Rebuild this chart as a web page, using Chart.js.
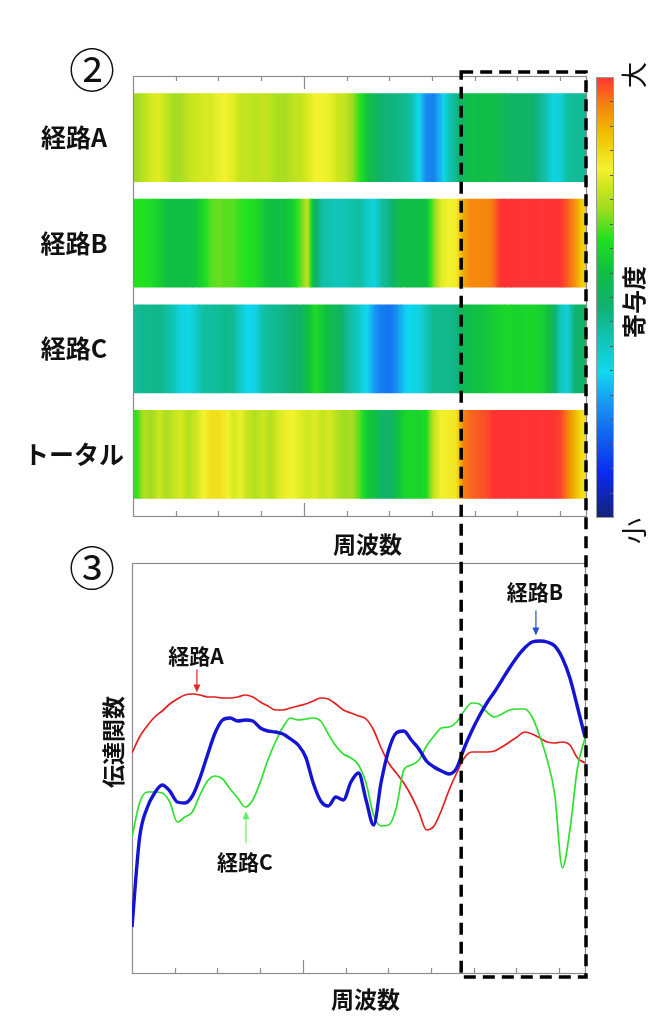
<!DOCTYPE html>
<html>
<head>
<meta charset="utf-8">
<script src="https://cdn.jsdelivr.net/npm/chart.js@4.4.1/dist/chart.umd.min.js"></script>
<style>
  html, body { margin: 0; padding: 0; background: #fff; }
  #wrap { position: relative; width: 669px; height: 1028px; }
  #wrap canvas { position: absolute; left: 0; top: 0; }
</style>
</head>
<body>
<div id="wrap">
  <canvas id="heat" width="669" height="1028"></canvas>
  <canvas id="lines" width="669" height="1028"></canvas>
</div>
<script>
// frequency bins (shared by both panels)
const freqBins = [0, 1, 2, 3, 4, 5, 6, 7, 8, 9, 10, 11, 12, 13, 14, 15, 16, 17, 18, 19,
  20, 21, 22, 23, 24, 25, 26, 27, 28, 29, 30, 31, 32, 33, 34, 35, 36, 37, 38, 39,
  40, 41, 42, 43, 44, 45, 46, 47, 48, 49, 50, 51, 52, 53, 54, 55, 56, 57, 58, 59, 60];

const pathLabels = ['経路A', '経路B', '経路C', 'トータル'];

// contribution (0 = 小, 1 = 大) per frequency bin
const heatA = [0.70, 0.73, 0.76, 0.77, 0.74, 0.70, 0.71, 0.74, 0.75, 0.76,
  0.76, 0.78, 0.79, 0.77, 0.74, 0.74, 0.73, 0.74, 0.73, 0.71,
  0.71, 0.73, 0.74, 0.76, 0.79, 0.79, 0.78, 0.75, 0.74, 0.70,
  0.64, 0.57, 0.52, 0.48, 0.47, 0.46, 0.45, 0.42, 0.33, 0.24,
  0.23, 0.30, 0.40, 0.45, 0.52, 0.55, 0.55, 0.55, 0.55, 0.53,
  0.51, 0.50, 0.50, 0.49, 0.46, 0.42, 0.35, 0.36, 0.43, 0.44, 0.44];
const heatB = [0.63, 0.63, 0.62, 0.59, 0.56, 0.55, 0.55, 0.55, 0.57, 0.61,
  0.66, 0.67, 0.66, 0.66, 0.64, 0.63, 0.62, 0.58, 0.56, 0.55,
  0.56, 0.59, 0.66, 0.73, 0.50, 0.42, 0.41, 0.40, 0.40, 0.42,
  0.43, 0.38, 0.35, 0.43, 0.46, 0.53, 0.55, 0.55, 0.55, 0.56,
  0.68, 0.77, 0.79, 0.80, 0.90, 0.93, 0.93, 0.93, 0.95, 1.00,
  1.00, 1.00, 1.00, 1.00, 1.00, 1.00, 1.00, 1.00, 0.97, 0.92, 0.85];
const heatC = [0.44, 0.45, 0.45, 0.46, 0.43, 0.40, 0.35, 0.34, 0.38, 0.43,
  0.43, 0.44, 0.45, 0.44, 0.38, 0.33, 0.35, 0.42, 0.44, 0.45,
  0.46, 0.48, 0.49, 0.55, 0.62, 0.58, 0.54, 0.52, 0.46, 0.42,
  0.38, 0.33, 0.26, 0.22, 0.21, 0.25, 0.31, 0.34, 0.35, 0.40,
  0.45, 0.45, 0.45, 0.46, 0.53, 0.55, 0.56, 0.57, 0.59, 0.60,
  0.61, 0.60, 0.60, 0.61, 0.60, 0.58, 0.52, 0.40, 0.36, 0.48, 0.50];
const heatTotal = [0.64, 0.72, 0.70, 0.75, 0.71, 0.74, 0.76, 0.72, 0.75, 0.79,
  0.82, 0.82, 0.80, 0.76, 0.78, 0.74, 0.72, 0.75, 0.72, 0.76,
  0.78, 0.79, 0.77, 0.75, 0.77, 0.74, 0.76, 0.72, 0.70, 0.71,
  0.66, 0.58, 0.56, 0.50, 0.49, 0.55, 0.60, 0.61, 0.60, 0.62,
  0.74, 0.79, 0.80, 0.81, 0.94, 0.96, 0.97, 0.98, 1.00, 1.00,
  1.00, 1.00, 1.00, 1.00, 1.00, 1.00, 1.00, 0.99, 0.94, 0.88, 0.82];

// transfer function per path (arbitrary units)
const tfA = [22.0, 23.6, 24.7, 25.6, 26.2, 26.9, 27.4, 27.8, 27.9, 27.8,
  27.6, 27.6, 27.5, 27.5, 27.6, 27.8, 27.6, 27.1, 26.7, 26.3,
  26.3, 26.5, 26.7, 26.9, 27.2, 27.5, 27.4, 26.9, 26.3, 26.0,
  25.7, 25.4, 24.3, 22.5, 21.0, 20.0, 19.0, 17.7, 16.1, 14.3,
  14.7, 16.3, 18.3, 20.0, 21.5, 22.1, 22.1, 22.1, 22.2, 22.6,
  23.1, 23.6, 24.1, 23.9, 23.5, 23.1, 23.0, 23.1, 22.8, 21.5, 21.0];
const tfB = [4.6, 13.5, 16.5, 18.0, 18.8, 18.2, 17.1, 17.0, 17.7, 19.5,
  21.8, 24.0, 25.3, 25.5, 25.2, 25.3, 25.2, 24.5, 24.2, 24.1,
  23.9, 23.4, 22.8, 21.6, 19.0, 17.2, 16.7, 17.6, 17.3, 19.1,
  20.0, 17.3, 14.8, 19.1, 22.3, 24.0, 24.2, 23.3, 22.4, 21.2,
  20.6, 20.2, 19.9, 20.5, 22.5, 24.2, 25.7, 27.0, 28.1, 29.3,
  30.5, 31.6, 32.5, 33.1, 33.2, 33.1, 32.7, 31.5, 29.5, 26.6, 23.6];
const tfC = [13.6, 17.0, 18.1, 18.1, 18.0, 17.1, 15.1, 15.6, 16.1, 17.8,
  19.2, 19.7, 19.4, 18.4, 17.5, 16.6, 17.3, 19.1, 21.3, 23.1,
  24.6, 25.5, 25.3, 25.4, 25.5, 25.2, 23.9, 22.7, 21.9, 21.5,
  20.8, 19.0, 15.8, 14.7, 14.8, 16.5, 20.3, 20.8, 21.3, 22.7,
  23.7, 24.5, 24.6, 25.1, 26.2, 27.0, 26.9, 26.1, 25.6, 25.9,
  26.3, 26.4, 26.4, 25.6, 23.7, 21.3, 17.8, 10.5, 14.3, 20.5, 23.5];

// highlighted band (frequency bin where the dashed box starts)
const highlightFrom = 43.6;

const FONT = '"Noto Sans CJK JP", "Noto Sans", sans-serif';
const FRAME = '#8c8c8c';
const HEAT_TOP = 76;
const ROW_H = 5, ROW_GAP = 1;
const TICK_FRAC = 0.0943;

// jet-like colormap of the contribution scale
const CMAP = [
  [0.00, '#14237a'], [0.10, '#0a2af0'], [0.18, '#1060f0'], [0.25, '#1890f0'],
  [0.33, '#10d8f0'], [0.42, '#10c0a8'], [0.48, '#10b070'], [0.56, '#10c040'],
  [0.63, '#20e020'], [0.70, '#a0dc20'], [0.75, '#cce61e'], [0.79, '#f2f22e'],
  [0.87, '#f0c000'], [0.94, '#f58010'], [1.00, '#ff3333']
].map(([t, c]) => {
  const n = parseInt(c.slice(1), 16);
  return [t, [(n >> 16) & 255, (n >> 8) & 255, n & 255]];
});

function cmap(v) {
  v = Math.max(0, Math.min(1, v));
  for (let i = 1; i < CMAP.length; i++) {
    if (v <= CMAP[i][0]) {
      const [t0, c0] = CMAP[i - 1];
      const [t1, c1] = CMAP[i];
      const f = (v - t0) / (t1 - t0);
      return 'rgb(' + c0.map((c, j) => Math.round(c + (c1[j] - c) * f)).join(',') + ')';
    }
  }
  return 'rgb(255,51,51)';
}

// value of a heat row at a fractional bin position (cells are centred on i + 0.5)
function sampleAt(arr, p) {
  const u = p - 0.5;
  if (u <= 0) return arr[0];
  if (u >= arr.length - 1) return arr[arr.length - 1];
  const j = Math.floor(u);
  return arr[j] + (arr[j + 1] - arr[j]) * (u - j);
}

// value of a line series at a fractional bin
function lineAt(arr, p) {
  const j = Math.floor(p);
  if (j >= arr.length - 1) return arr[arr.length - 1];
  return arr[j] + (arr[j + 1] - arr[j]) * (p - j);
}

function cellFill(ctx, vals) {
  if (ctx.type !== 'data') return '#ffffff';
  const chart = ctx.chart;
  const i = ctx.dataIndex;
  if (!chart.chartArea || !chart.scales.x) return cmap(vals[i]);
  const xs = chart.scales.x;
  const x0 = xs.getPixelForValue(freqBins[i]);
  const x1 = xs.getPixelForValue(freqBins[i] + 1);
  const g = chart.ctx.createLinearGradient(x0, 0, x1, 0);
  [0, 0.25, 0.5, 0.75, 1].forEach(s => g.addColorStop(s, cmap(sampleAt(vals, i + s))));
  return g;
}

function text(ctx, str, x, y, font, rot) {
  ctx.save();
  ctx.translate(x, y);
  if (rot) ctx.rotate(rot);
  ctx.font = font;
  ctx.fillStyle = '#111';
  ctx.textAlign = 'center';
  ctx.textBaseline = 'middle';
  ctx.fillText(str, 0, 0);
  ctx.restore();
}

function drawFrame(ctx, a, ticksTop) {
  ctx.save();
  ctx.strokeStyle = FRAME;
  ctx.lineWidth = 1.2;
  ctx.strokeRect(a.left + 0.5, a.top + 0.5, a.right - a.left, a.bottom - a.top);
  const w = a.right - a.left;
  for (let k = 1; k <= 10; k++) {
    const x = Math.round(a.left + k * TICK_FRAC * w) + 0.5;
    const len = k === 4 ? 13 : 5;
    ctx.beginPath();
    ctx.moveTo(x, a.bottom);
    ctx.lineTo(x, a.bottom - len);
    if (ticksTop) {
      ctx.moveTo(x, a.top);
      ctx.lineTo(x, a.top + len);
    }
    ctx.stroke();
  }
  ctx.restore();
}

function drawColorbar(ctx, a) {
  const x0 = a.right + 10, w = 17;
  const top = a.top + 1, bottom = a.bottom + 1;
  const g = ctx.createLinearGradient(0, bottom, 0, top);
  CMAP.forEach(([t]) => g.addColorStop(t, cmap(t)));
  ctx.fillStyle = g;
  ctx.fillRect(x0, top, w, bottom - top);
  ctx.strokeStyle = '#9a9a9a';
  ctx.lineWidth = 1;
  ctx.strokeRect(x0 + 0.5, top + 0.5, w, bottom - top);
  ctx.strokeStyle = '#555';
  for (let j = 1; j < 18; j++) {
    const yy = Math.round(bottom - j * (bottom - top) / 18) + 0.5;
    ctx.beginPath();
    ctx.moveTo(x0 + w - 3, yy);
    ctx.lineTo(x0 + w, yy);
    ctx.stroke();
  }
  text(ctx, '大', x0 + 38, top - 2, '26px ' + FONT, -Math.PI / 2);
  text(ctx, '寄与度', x0 + 38, (top + bottom) / 2 + 5, 'bold 24px ' + FONT, -Math.PI / 2);
  text(ctx, '小', x0 + 38, bottom + 14, '26px ' + FONT, -Math.PI / 2);
}

const heatRows = [heatA, heatB, heatC, heatTotal];

const heatDecor = {
  id: 'heatDecor',
  afterDraw(chart) {
    const { ctx, chartArea: a, scales: { y } } = chart;
    drawFrame(ctx, a, true);
    heatRows.forEach((_, r) => {
      const lo = ROW_GAP + r * (ROW_H + ROW_GAP);
      text(ctx, pathLabels[r], a.left - 59, y.getPixelForValue(lo + ROW_H / 2), 'bold 25px ' + FONT);
    });
    text(ctx, '周波数', (a.left + a.right) / 2 + 8, a.bottom + 28, 'bold 23px ' + FONT);
    text(ctx, '②', a.left - 41, a.top - 6, '46px ' + FONT);
    drawColorbar(ctx, a);
  }
};

new Chart(document.getElementById('heat'), {
  type: 'bar',
  data: {
    datasets: heatRows.map((vals, r) => {
      const lo = ROW_GAP + r * (ROW_H + ROW_GAP);
      return {
        label: pathLabels[r],
        data: vals.map((v, i) => ({ x: freqBins[i] + 0.5, y: [lo, lo + ROW_H] })),
        grouped: false,
        barPercentage: 1,
        categoryPercentage: 1,
        borderWidth: 0,
        backgroundColor: ctx => cellFill(ctx, vals)
      };
    })
  },
  options: {
    responsive: false,
    animation: false,
    layout: { padding: { left: 133, right: 83, top: HEAT_TOP, bottom: 512 } },
    scales: {
      x: { type: 'linear', min: 0, max: freqBins.length, offset: false, display: false },
      y: { type: 'linear', min: 0, max: 4 * (ROW_H + ROW_GAP) + ROW_GAP, reverse: true, display: false }
    },
    plugins: { legend: { display: false }, tooltip: { enabled: false } }
  },
  plugins: [heatDecor]
});

const callouts = [
  { data: tfA, at: 8.6, label: '経路A', color: '#e62828', gap: 2, len: 23, textOff: 14 },
  { data: tfB, at: 53.5, label: '経路B', color: '#2250d0', gap: 6, len: 25, textOff: 18 },
  { data: tfC, at: 15.1, label: '経路C', color: '#66ee66', gap: -5, len: -32, textOff: -19 }
];

function arrow(ctx, x, yTail, yTip, color) {
  const dir = Math.sign(yTip - yTail);
  ctx.save();
  ctx.strokeStyle = color;
  ctx.fillStyle = color;
  ctx.lineWidth = 1.2;
  ctx.beginPath();
  ctx.moveTo(x, yTail);
  ctx.lineTo(x, yTip - dir * 6);
  ctx.stroke();
  ctx.beginPath();
  ctx.moveTo(x, yTip);
  ctx.lineTo(x - 3.5, yTip - dir * 8);
  ctx.lineTo(x + 3.5, yTip - dir * 8);
  ctx.closePath();
  ctx.fill();
  ctx.restore();
}

const lineDecor = {
  id: 'lineDecor',
  beforeDatasetsDraw(chart) {
    drawFrame(chart.ctx, chart.chartArea, false);
  },
  afterDraw(chart) {
    const { ctx, chartArea: a, scales: { x, y } } = chart;
    callouts.forEach(c => {
      const px = x.getPixelForValue(c.at);
      const py = y.getPixelForValue(lineAt(c.data, c.at));
      const tip = py - c.gap;
      const tail = tip - c.len;
      arrow(ctx, px, tail, tip, c.color);
      text(ctx, c.label, px - 1, tail - c.textOff, 'bold 21px ' + FONT);
    });
    text(ctx, '伝達関数', a.left - 19, (a.top + a.bottom) / 2 - 26, 'bold 23px ' + FONT, -Math.PI / 2);
    text(ctx, '周波数', (a.left + a.right) / 2 + 7, a.bottom + 26, 'bold 23px ' + FONT);
    text(ctx, '③', a.left - 40, a.top + 5, '46px ' + FONT);

    // dashed box around the high-frequency band, spanning both panels
    const x0 = x.getPixelForValue(highlightFrom);
    const x1 = a.right + 1;
    const top = HEAT_TOP - 4;
    const bottom = a.bottom + 4;
    ctx.save();
    ctx.strokeStyle = '#000';
    ctx.lineWidth = 3.5;
    ctx.setLineDash([12, 7]);
    ctx.strokeRect(x0, top, x1 - x0, bottom - top);
    ctx.restore();
  }
};

new Chart(document.getElementById('lines'), {
  type: 'line',
  data: {
    datasets: [
      { label: '経路B', data: tfB.map((v, i) => ({ x: freqBins[i], y: v })), borderColor: '#1414d2', borderWidth: 3.4, order: 0 },
      { label: '経路C', data: tfC.map((v, i) => ({ x: freqBins[i], y: v })), borderColor: '#2ee02e', borderWidth: 1.7, order: 1 },
      { label: '経路A', data: tfA.map((v, i) => ({ x: freqBins[i], y: v })), borderColor: '#e61e1e', borderWidth: 1.7, order: 2 }
    ]
  },
  options: {
    responsive: false,
    animation: false,
    elements: {
      point: { radius: 0 },
      line: { cubicInterpolationMode: 'monotone', fill: false }
    },
    layout: { padding: { left: 132, right: 84, top: 563, bottom: 55 } },
    scales: {
      x: { type: 'linear', min: 0, max: freqBins[freqBins.length - 1], display: false },
      y: { type: 'linear', min: 0, max: 41, display: false }
    },
    plugins: { legend: { display: false }, tooltip: { enabled: false } }
  },
  plugins: [lineDecor]
});
</script>
</body>
</html>
